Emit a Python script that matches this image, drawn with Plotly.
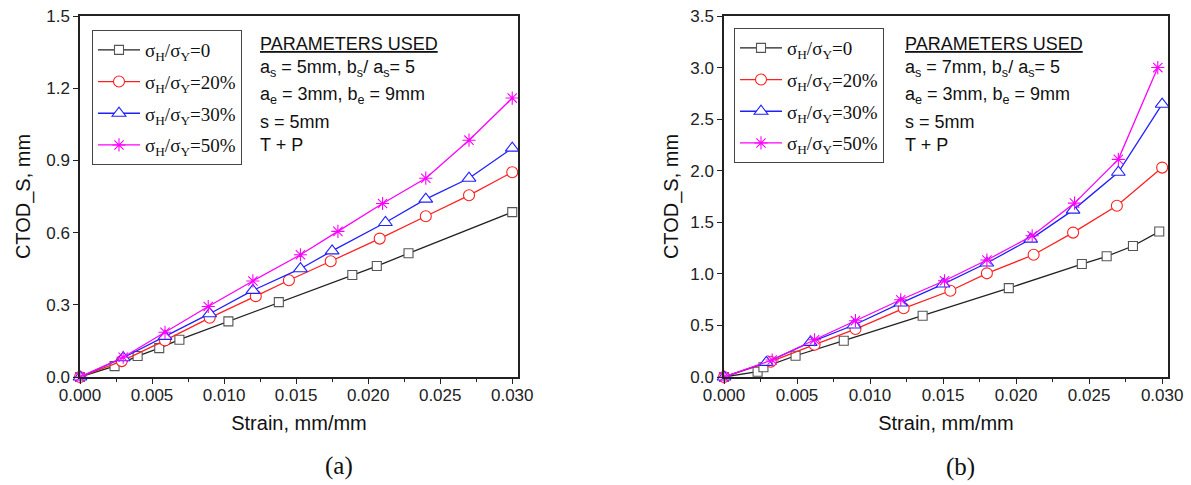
import plotly.graph_objects as go

# ---------------- data (a) ----------------
strain_a_0 = [0, 0.0024, 0.0040, 0.0055, 0.0069, 0.0103, 0.0138, 0.0189, 0.0206, 0.0228, 0.0300]
ctod_a_0 = [0, 0.045, 0.087, 0.120, 0.155, 0.231, 0.311, 0.424, 0.461, 0.514, 0.685]
strain_a_20 = [0, 0.0029, 0.0059, 0.0090, 0.0122, 0.0145, 0.0174, 0.0208, 0.0240, 0.0270, 0.0300]
ctod_a_20 = [0, 0.066, 0.152, 0.246, 0.336, 0.402, 0.481, 0.575, 0.668, 0.755, 0.851]
strain_a_30 = [0, 0.0030, 0.0059, 0.0090, 0.0120, 0.0153, 0.0175, 0.0212, 0.0240, 0.0270, 0.0300]
ctod_a_30 = [0, 0.080, 0.169, 0.263, 0.360, 0.450, 0.524, 0.642, 0.739, 0.826, 0.951]
strain_a_50 = [0, 0.0030, 0.0059, 0.0089, 0.0120, 0.0153, 0.0179, 0.0210, 0.0240, 0.0270, 0.0300]
ctod_a_50 = [0, 0.082, 0.186, 0.293, 0.399, 0.508, 0.605, 0.721, 0.826, 0.984, 1.159]

# ---------------- data (b) ----------------
strain_b_0 = [0, 0.0023, 0.0027, 0.0049, 0.0082, 0.0136, 0.0195, 0.0245, 0.0262, 0.0280, 0.0298]
ctod_b_0 = [0, 0.051, 0.094, 0.206, 0.352, 0.594, 0.862, 1.095, 1.170, 1.270, 1.410]
strain_b_20 = [0, 0.0032, 0.0062, 0.0090, 0.0123, 0.0155, 0.0180, 0.0212, 0.0239, 0.0269, 0.0300]
ctod_b_20 = [0, 0.148, 0.313, 0.465, 0.666, 0.836, 1.005, 1.185, 1.400, 1.660, 2.030]
strain_b_30 = [0, 0.0029, 0.0059, 0.0089, 0.0121, 0.0150, 0.0180, 0.0210, 0.0239, 0.0270, 0.0300]
ctod_b_30 = [0, 0.142, 0.336, 0.504, 0.717, 0.901, 1.105, 1.337, 1.618, 1.985, 2.645]
strain_b_50 = [0, 0.0033, 0.0062, 0.0090, 0.0121, 0.0151, 0.0180, 0.0211, 0.0240, 0.0270, 0.0297]
ctod_b_50 = [0, 0.165, 0.361, 0.546, 0.749, 0.933, 1.134, 1.369, 1.686, 2.110, 3.000]

series_names = ["σ<sub>H</sub>/σ<sub>Y</sub>=0", "σ<sub>H</sub>/σ<sub>Y</sub>=20%",
                "σ<sub>H</sub>/σ<sub>Y</sub>=30%", "σ<sub>H</sub>/σ<sub>Y</sub>=50%"]
x_ticks = [0.000, 0.005, 0.010, 0.015, 0.020, 0.025, 0.030]
x_tick_text = ["0.000", "0.005", "0.010", "0.015", "0.020", "0.025", "0.030"]
y_ticks_a = [0.0, 0.3, 0.6, 0.9, 1.2, 1.5]
y_ticks_b = [0.0, 0.5, 1.0, 1.5, 2.0, 2.5, 3.0, 3.5]
params_a = ["<u>PARAMETERS USED</u>", "a<sub>s</sub> = 5mm, b<sub>s</sub>/ a<sub>s</sub>= 5",
            "a<sub>e</sub> = 3mm, b<sub>e</sub> = 9mm", "s = 5mm", "T + P"]
params_b = ["<u>PARAMETERS USED</u>", "a<sub>s</sub> = 7mm, b<sub>s</sub>/ a<sub>s</sub>= 5",
            "a<sub>e</sub> = 3mm, b<sub>e</sub> = 9mm", "s = 5mm", "T + P"]

W, H = 1191, 485
styles = [
    dict(line="#222222", symbol="square", mline="#555555", size=9),
    dict(line="#ff2020", symbol="circle", mline="#ff2020", size=11),
    dict(line="#2020ff", symbol="triangle-up", mline="#2020ff", size=12),
    dict(line="#ff00ff", symbol="asterisk-open", mline="#ff00ff", size=11),
]

fig = go.Figure()
data_a = [(strain_a_0, ctod_a_0), (strain_a_20, ctod_a_20), (strain_a_30, ctod_a_30), (strain_a_50, ctod_a_50)]
data_b = [(strain_b_0, ctod_b_0), (strain_b_20, ctod_b_20), (strain_b_30, ctod_b_30), (strain_b_50, ctod_b_50)]

for panel, (data, xa, ya, lg) in enumerate([(data_a, "x", "y", "legend"), (data_b, "x2", "y2", "legend2")]):
    for k, ((xs, ys), name, st) in enumerate(zip(data, series_names, styles)):
        fig.add_trace(go.Scatter(
            x=xs, y=ys, name=name, mode="lines+markers", xaxis=xa, yaxis=ya, legend=lg,
            legendgroup=f"p{panel}s{k}",
            line=dict(color=st["line"], width=1.3),
            marker=dict(symbol=st["symbol"], size=st["size"],
                        color="white" if st["symbol"] != "asterisk-open" else st["mline"],
                        line=dict(color=st["mline"], width=1.1)),
            cliponaxis=False,
        ))

def px_x(p):
    return p / W

def px_y(p):
    return 1 - p / H

tickfont = dict(family="Liberation Sans, Arial", size=17, color="#222")
titlefont = dict(family="Liberation Sans, Arial", size=20, color="#111")
common_x = dict(range=[0, 0.0304], tickvals=x_ticks, ticktext=x_tick_text, ticks="outside", ticklen=5,
                tickwidth=1.2, tickcolor="#222", showline=True, linecolor="#222", linewidth=1.5, mirror=True,
                showgrid=False, zeroline=False, tickfont=tickfont, automargin=False, ticklabelstandoff=-3,
                title=dict(text="Strain, mm/mm", font=titlefont, standoff=12),
                minor=dict(dtick=0.0025, tick0=0, ticks="outside", ticklen=3, tickcolor="#222", showgrid=False))
common_y = dict(ticks="outside", ticklen=5, tickwidth=1.2, tickcolor="#222", showline=True, linecolor="#222",
                linewidth=1.5, mirror=True, showgrid=False, zeroline=False, tickfont=tickfont, automargin=False,
                title=dict(text="CTOD_S, mm", font=titlefont, standoff=10))

legend_common = dict(xanchor="left", yanchor="top", bgcolor="white", bordercolor="#444", borderwidth=1,
                     font=dict(family="Liberation Serif, Times New Roman", size=19, color="#111"),
                     tracegroupgap=4, itemwidth=42)

y_dom = [px_y(377), px_y(16)]
fig.update_layout(
    width=W, height=H, margin=dict(l=0, r=0, t=0, b=0),
    paper_bgcolor="white", plot_bgcolor="white",
    xaxis=dict(domain=[px_x(80), px_x(518)], anchor="y", **common_x),
    yaxis=dict(domain=y_dom, anchor="x", range=[0, 1.5], tickvals=y_ticks_a,
               ticktext=[f"{v:.1f}" for v in y_ticks_a], **common_y),
    xaxis2=dict(domain=[px_x(724), px_x(1168)], anchor="y2", **common_x),
    yaxis2=dict(domain=y_dom, anchor="x2", range=[0, 3.5], tickvals=y_ticks_b,
                ticktext=[f"{v:.1f}" for v in y_ticks_b], **common_y),
    legend=dict(x=px_x(92), y=px_y(30), **legend_common),
    legend2=dict(x=px_x(734), y=px_y(28), **legend_common),
    showlegend=True,
)
fig.update_layout(yaxis2_title_standoff=6)

annos = []
line_y = [44, 69, 96, 122, 145]
for lx, lines in [(258, params_a), (903, params_b)]:
    for txt, yy in zip(lines, line_y):
        annos.append(dict(text=txt, x=px_x(lx), y=px_y(yy), xref="paper", yref="paper",
                          xanchor="left", yanchor="middle", showarrow=False,
                          font=dict(family="Liberation Sans, Arial", size=18, color="#111")))
annos.append(dict(text="(a)", x=px_x(339), y=px_y(466), xref="paper", yref="paper", showarrow=False,
                  xanchor="center", yanchor="middle",
                  font=dict(family="Liberation Serif, Times New Roman", size=25, color="#111")))
annos.append(dict(text="(b)", x=px_x(960), y=px_y(467), xref="paper", yref="paper", showarrow=False,
                  xanchor="center", yanchor="middle",
                  font=dict(family="Liberation Serif, Times New Roman", size=25, color="#111")))
fig.update_layout(annotations=annos)

fig.write_html("out.html", config={"displayModeBar": False},
               post_script="document.body.style.margin='0';document.body.style.overflow='hidden';")
